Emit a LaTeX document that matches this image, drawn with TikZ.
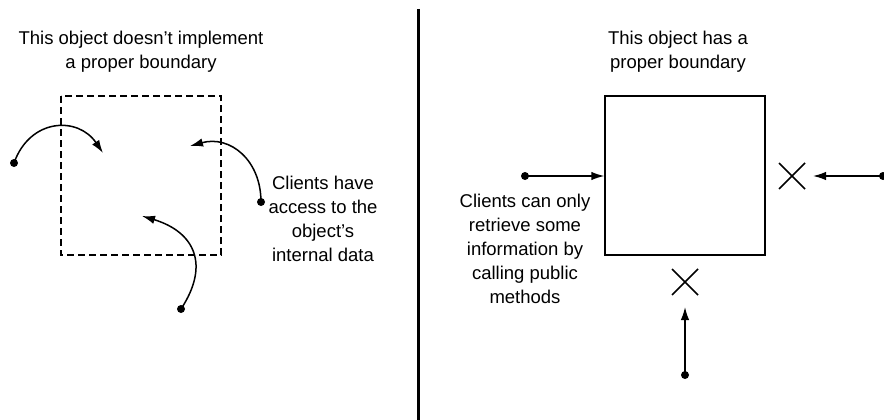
\documentclass[tikz,border=0pt]{standalone}
\usepackage{fontspec}
\setmainfont{Liberation Sans}
\usetikzlibrary{arrows.meta,calc}
\begin{document}
\begin{tikzpicture}[x=1pt,y=-1pt,
  lbl/.style={align=center,inner sep=0pt,font=\fontsize{18.5}{24}\selectfont},
  dot/.style={circle,fill=black,inner sep=0pt,minimum size=8pt},
  conn/.style={line width=1.5pt,-{Latex[length=13pt,width=8.5pt]}},
  cross/.style={line width=1.6pt},
  box/.style={draw,line width=1.3pt,inner sep=0pt}]
\useasboundingbox (0,0) rectangle (884,420);
% divider
\draw[line width=2.8pt] (418.5,9) -- (418.5,420);
% titles
\node[lbl] (t1) at (141,52) {This object doesn’t implement\\a proper boundary};
\node[lbl] (t2) at (678,52) {This object has a\\proper boundary};
% left dashed box
\draw[line width=1.3pt,dash pattern=on 7pt off 4pt] (61,96) rectangle (221,255);
% left curved arrows
\node[dot] (d1) at (14,163) {};
\coordinate (e1) at (103,153);
\draw[conn] (d1.center) .. controls (30,118) and (78,116) .. (e1);
\node[dot] (d2) at (261,202) {};
\coordinate (e2) at (190,146);
\draw[conn] (d2.center) .. controls (261,160) and (230,135) .. (e2);
\node[dot] (d3) at (181,309) {};
\coordinate (e3) at (142,216);
\draw[conn] (d3.center) .. controls (210,265) and (195,232) .. (e3);
\node[lbl] (c1) at (323,219) {Clients have\\access to the\\object’s\\internal data};
% right box
\node[box,minimum width=160pt,minimum height=159pt] (ob) at (685,175.5) {};
\node[dot] (d4) at (525,176) {};
\draw[conn] (d4.center) -- (ob.west |- d4);
\node[dot] (d5) at (883,176) {};
\coordinate (e5) at (813,176);
\draw[conn] (d5.center) -- (e5);
\node[dot] (d6) at (685,375) {};
\coordinate (e6) at (685,307);
\draw[conn] (d6.center) -- (e6);
\coordinate (x1) at (792,176);
\draw[cross] ($(x1)+(-13,-13)$) -- ($(x1)+(13,13)$) ($(x1)+(-13,13)$) -- ($(x1)+(13,-13)$);
\coordinate (x2) at (685,282);
\draw[cross] ($(x2)+(-13,-13)$) -- ($(x2)+(13,13)$) ($(x2)+(-13,13)$) -- ($(x2)+(13,-13)$);
\node[lbl] (c2) at (525,249) {Clients can only\\retrieve some\\information by\\calling public\\methods};
\end{tikzpicture}
\end{document}
